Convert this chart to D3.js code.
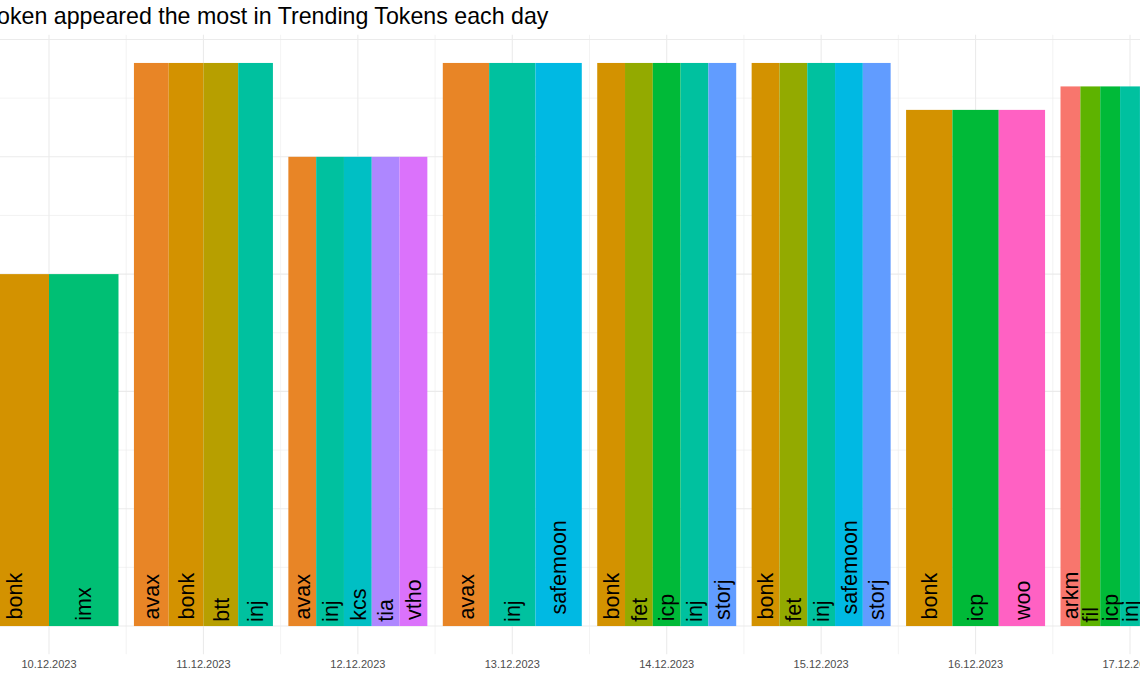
<!DOCTYPE html>
<html>
<head>
<meta charset="utf-8">
<script src="https://cdn.jsdelivr.net/npm/d3@7"></script>
<style>
  html, body { margin: 0; padding: 0; background: #fff; overflow: hidden; }
  svg { display: block; font-family: "Liberation Sans", Arial, Helvetica, sans-serif; }
</style>
</head>
<body>
<svg id="chart" width="1140" height="694"></svg>
<script>
// ---- data ----
const title = "Token appeared the most in Trending Tokens each day";
const days = ["10.12.2023", "11.12.2023", "12.12.2023", "13.12.2023",
              "14.12.2023", "15.12.2023", "16.12.2023", "17.12.2023"];
const counts = [15, 24, 20, 24, 24, 24, 22, 23];
const tokensByDay = [
  ["bonk", "imx"],
  ["avax", "bonk", "btt", "inj"],
  ["avax", "inj", "kcs", "tia", "vtho"],
  ["avax", "inj", "safemoon"],
  ["bonk", "fet", "icp", "inj", "storj"],
  ["bonk", "fet", "inj", "safemoon", "storj"],
  ["bonk", "icp", "woo"],
  ["arkm", "fil", "icp", "inj", "sei", "wld", "xrp"]
];
const tokenLevels = ["arkm", "avax", "bonk", "btt", "fet", "fil", "icp", "imx", "inj",
                     "kcs", "safemoon", "sei", "storj", "tia", "vtho", "wld", "woo", "xrp"];
const palette = ["#F8766D", "#E88526", "#D39200", "#B79F00", "#93AA00", "#5EB300",
                 "#00BA38", "#00BF74", "#00C19F", "#00BFC4", "#00B9E3", "#00ADFA",
                 "#619CFF", "#AE87FF", "#DB72FB", "#F564E3", "#FF61C3", "#FF699C"];

// ---- layout ----
const W = 1140, H = 694;
const svg = d3.select("#chart");
const color = d3.scaleOrdinal().domain(tokenLevels).range(palette);

const x = d3.scalePoint().domain(days).range([49, 1130]);
const step = x.step();
const groupW = step * 0.9;

const yMax = d3.max(counts);
const pad = yMax * 0.05;
const panelTop = 34.8, panelBottom = 654.2;
const y = d3.scaleLinear().domain([-pad, yMax + pad]).range([panelBottom, panelTop]);

const majorColor = "#EBEBEB";

// horizontal grid
const hTicks = d3.range(0, yMax + pad + 0.001, 2.5);
svg.append("g").selectAll("line").data(hTicks).join("line")
  .attr("x1", 0).attr("x2", W)
  .attr("y1", d => y(d)).attr("y2", d => y(d))
  .attr("stroke", majorColor)
  .attr("stroke-width", d => (d % 5 === 0) ? 1.1 : 0.6);

// vertical grid (major at days, minor between)
const minorX = d3.range(days.length + 1).map(i => x(days[0]) + (i - 0.5) * step);
svg.append("g").selectAll("line").data(minorX).join("line")
  .attr("x1", d => d).attr("x2", d => d)
  .attr("y1", panelTop).attr("y2", panelBottom)
  .attr("stroke", majorColor).attr("stroke-width", 0.6);
svg.append("g").selectAll("line").data(days).join("line")
  .attr("x1", d => x(d)).attr("x2", d => x(d))
  .attr("y1", panelTop).attr("y2", panelBottom)
  .attr("stroke", majorColor).attr("stroke-width", 1.1);

// bars + labels
const flat = [];
days.forEach((d, i) => {
  const cx = x(d);
  const inner = d3.scaleBand().domain(tokensByDay[i]).range([cx - groupW / 2, cx + groupW / 2]);
  tokensByDay[i].forEach(t => flat.push({day: d, token: t, n: counts[i], x0: inner(t), w: inner.bandwidth()}));
});

const gBars = svg.append("g");
gBars.selectAll("rect").data(flat).join("rect")
  .attr("x", d => d.x0).attr("width", d => d.w)
  .attr("y", d => y(d.n)).attr("height", d => y(0) - y(d.n))
  .attr("fill", d => color(d.token));

const gLab = svg.append("g");
gLab.selectAll("text").data(flat).join("text")
  .attr("font-size", 21.5)
  .attr("fill", "#000")
  .attr("dy", "0.36em")
  .text(d => d.token)
  .each(function(d) {
    const len = this.getComputedTextLength();
    const sy = y(0) - 2 - 0.1 * len;
    d3.select(this).attr("transform", `translate(${d.x0 + d.w / 2},${sy}) rotate(-90)`);
  });

// x axis labels
svg.append("g").selectAll("text").data(days).join("text")
  .attr("x", d => x(d)).attr("y", 667.5)
  .attr("text-anchor", "middle")
  .attr("font-size", 11)
  .attr("fill", "#4D4D4D")
  .text(d => d);

// title
svg.append("text")
  .attr("x", -14.5).attr("y", 24)
  .attr("font-size", 23.2)
  .attr("fill", "#000")
  .text(title);
</script>
</body>
</html>
